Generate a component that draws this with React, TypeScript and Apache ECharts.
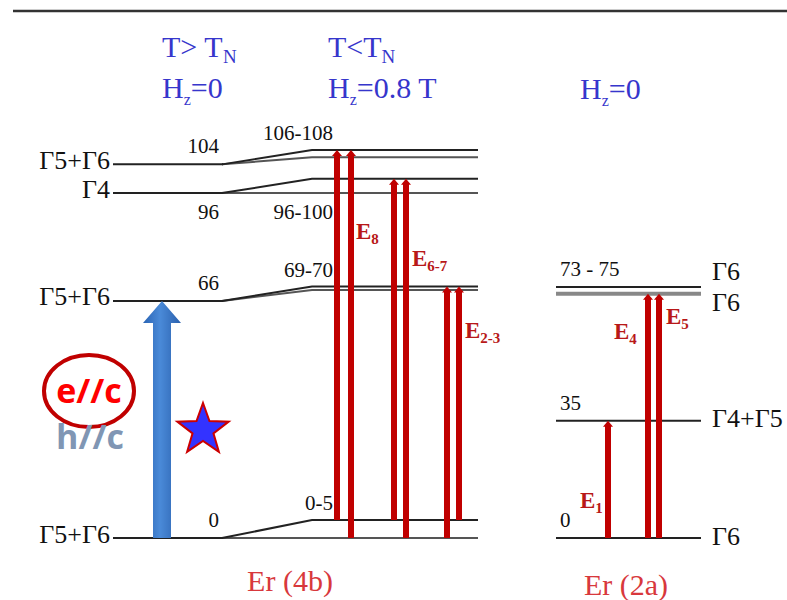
import React, { useEffect, useRef } from 'react';
import * as echarts from 'echarts';

// ---- Er (4b): crystal-field levels (meV), T > T_N, H_z = 0
const er4bLevels = [0, 66, 96, 104];
const er4bIrreps = ['Γ5+Γ6', 'Γ5+Γ6', 'Γ4', 'Γ5+Γ6'];
const er4bLevelLabels = ['0', '66', '96', '104'];
// split levels, T < T_N, H_z = 0.8 T
const er4bSplitLow = [0, 69, 96, 106];
const er4bSplitHigh = [5, 70, 100, 108];
const er4bSplitLabels = ['0-5', '69-70', '96-100', '106-108'];

// ---- Er (2a): levels (meV), H_z = 0
const er2aLevels = [0, 35, 73, 75];
const er2aIrreps = ['Γ6', 'Γ4+Γ5', 'Γ6', 'Γ6'];
const er2aLabels = ['0', '35', '', '73 - 75'];

// ---- transitions (meV)
const er4bTransFrom = [5, 0, 5, 0, 0, 5];
const er4bTransTo = [108, 108, 100, 100, 70, 70];
const er2aTransFrom = [0, 0, 0];
const er2aTransTo = [35, 73, 73];
const irTransition = [0, 66];

// ---- layout (x positions in px)
const X4B_TRANS = [337, 351, 394, 406, 447, 459];
const X2A_TRANS = [608, 648, 659];
const X_IR = 162;
const LABEL_BELOW_4B = [false, false, true, false];

const SERIF = '"Liberation Serif", "Times New Roman", serif';
const DARKRED = '#c00000';
const BLUE = '#3636cc';
const ELABEL = '#b81818';

function starPoints(cx: number, cy: number, R: number, r: number) {
  const pts: number[][] = [];
  for (let k = 0; k < 10; k++) {
    const rad = k % 2 === 0 ? R : r;
    const a = -Math.PI / 2 + (k * Math.PI) / 5;
    pts.push([cx + rad * Math.cos(a), cy + rad * Math.sin(a)]);
  }
  return pts;
}

function arrowChildren(cx: number, yFrom: number, yTo: number) {
  return [
    {
      type: 'rect',
      shape: { x: cx - 3, y: yTo + 4, width: 6, height: yFrom - yTo - 4 },
      style: { fill: DARKRED },
    },
    {
      type: 'polygon',
      shape: { points: [[cx - 5, yTo + 6], [cx + 5, yTo + 6], [cx, yTo]] },
      style: { fill: DARKRED },
    },
  ];
}

function txt(text: string, x: number, y: number, align: string, size: number) {
  return {
    type: 'text',
    style: {
      text, x, y, align, verticalAlign: 'middle', fill: '#111',
      font: `${size}px "Liberation Serif", serif`,
      fontSize: size, fontFamily: 'Liberation Serif',
    },
  };
}

export default function App() {
  const ref = useRef<HTMLDivElement>(null);
  useEffect(() => {
    if (!ref.current) return;
    const chart = echarts.init(ref.current, null, { renderer: 'svg' });

    const levels4b = {
      type: 'custom',
      coordinateSystem: 'cartesian2d',
      xAxisIndex: 0,
      yAxisIndex: 0,
      z: 2,
      data: er4bLevels.map((e, i) => [e, er4bSplitLow[i], er4bSplitHigh[i]]),
      renderItem: (params: any, api: any) => {
        const i = params.dataIndex;
        const e = api.value(0), lo = api.value(1), hi = api.value(2);
        const P = (x: number, v: number) => api.coord([x, v]);
        const y = P(0, e)[1], yLo = P(0, lo)[1], yHi = P(0, hi)[1];
        const below = LABEL_BELOW_4B[i];
        return {
          type: 'group',
          children: [
            { type: 'polyline', shape: { points: [P(222, e), P(312, lo), P(478, lo)] }, style: { stroke: '#555', lineWidth: 2, fill: null } },
            { type: 'polyline', shape: { points: [P(222, e), P(312, hi), P(478, hi)] }, style: { stroke: '#222', lineWidth: 2, fill: null } },
            { type: 'polyline', shape: { points: [P(113, e), P(223, e)] }, style: { stroke: '#222', lineWidth: 2, fill: null } },
            txt(er4bIrreps[i], 110, y - 4, 'right', 26),
            txt(er4bLevelLabels[i], 219, below ? y + 19 : y - 18, 'right', 21),
            txt(er4bSplitLabels[i], 333, below ? yLo + 19 : yHi - 17, 'right', 21),
          ],
        };
      },
    };

    const levels2a = {
      type: 'custom',
      coordinateSystem: 'cartesian2d',
      xAxisIndex: 1,
      yAxisIndex: 1,
      z: 2,
      data: er2aLevels.map((e) => [e]),
      renderItem: (params: any, api: any) => {
        const i = params.dataIndex;
        const e = api.value(0);
        const P = (x: number, v: number) => api.coord([x, v]);
        const y = P(0, e)[1];
        const isLowerOfPair = i === 2;
        const isUpperOfPair = i === 3;
        const irrY = isLowerOfPair ? y + 9 : isUpperOfPair ? y - 16 : y - 2;
        return {
          type: 'group',
          children: [
            { type: 'polyline', shape: { points: [P(556, e), P(701, e)] }, style: { stroke: isLowerOfPair ? '#888' : '#222', lineWidth: isLowerOfPair ? 4 : 2, fill: null } },
            txt(er2aIrreps[i], 712, irrY, 'left', 26),
            txt(er2aLabels[i], 560, y - 18, 'left', 21),
          ],
        };
      },
    };

    const trans4b = {
      type: 'custom',
      coordinateSystem: 'cartesian2d',
      xAxisIndex: 0,
      yAxisIndex: 0,
      z: 3,
      data: er4bTransFrom.map((f, i) => [f, er4bTransTo[i]]),
      renderItem: (params: any, api: any) => {
        const cx = X4B_TRANS[params.dataIndex];
        const yF = api.coord([cx, api.value(0)])[1];
        const yT = api.coord([cx, api.value(1)])[1];
        return { type: 'group', children: arrowChildren(cx, yF, yT) };
      },
    };

    const trans2a = {
      type: 'custom',
      coordinateSystem: 'cartesian2d',
      xAxisIndex: 1,
      yAxisIndex: 1,
      z: 3,
      data: er2aTransFrom.map((f, i) => [f, er2aTransTo[i]]),
      renderItem: (params: any, api: any) => {
        const cx = X2A_TRANS[params.dataIndex];
        const yF = api.coord([cx, api.value(0)])[1];
        const yT = api.coord([cx, api.value(1)])[1];
        return { type: 'group', children: arrowChildren(cx, yF, yT) };
      },
    };

    const irArrow = {
      type: 'custom',
      coordinateSystem: 'cartesian2d',
      xAxisIndex: 0,
      yAxisIndex: 0,
      z: 3,
      data: [irTransition],
      renderItem: (_params: any, api: any) => {
        const yF = api.coord([X_IR, api.value(0)])[1];
        const yT = api.coord([X_IR, api.value(1)])[1];
        const c = X_IR, sw = 9, hw = 19, hh = 22;
        return {
          type: 'polygon',
          shape: {
            points: [
              [c - sw, yF], [c - sw, yT + hh], [c - hw, yT + hh], [c, yT],
              [c + hw, yT + hh], [c + sw, yT + hh], [c + sw, yF],
            ],
          },
          style: {
            fill: new echarts.graphic.LinearGradient(0, 0, 1, 0, [
              { offset: 0, color: '#2a64b4' },
              { offset: 0.45, color: '#4a8ad8' },
              { offset: 1, color: '#2a60ad' },
            ]),
          },
        };
      },
    };

    const subText = (x: number, y: number, main: string, sub: string, tail: string, fs: number, subFs: number, lh: number, color: string, weight = 'normal') => ({
      type: 'text',
      x,
      y,
      style: {
        text: `{m|${main}}{s|${sub}}` + (tail ? `{m|${tail}}` : ''),
        align: 'left',
        verticalAlign: 'middle',
        fill: color,
        fontFamily: SERIF,
        fontWeight: weight,
        rich: {
          m: { fontSize: fs, lineHeight: lh, fontFamily: SERIF, fontWeight: weight },
          s: { fontSize: subFs, lineHeight: subFs, verticalAlign: 'bottom', fontFamily: SERIF, fontWeight: weight },
        },
      },
    });

    const graphic: any[] = [
      { type: 'line', shape: { x1: 13, y1: 11, x2: 787, y2: 11 }, style: { stroke: '#333', lineWidth: 2.5 } },
      subText(162, 46, 'T> T', 'N', '', 30, 19, 40, BLUE),
      subText(162, 87, 'H', 'z', '=0', 30, 16, 40, BLUE),
      subText(328, 46, 'T<T', 'N', '', 30, 19, 40, BLUE),
      subText(328, 87, 'H', 'z', '=0.8 T', 30, 16, 40, BLUE),
      subText(580, 88, 'H', 'z', '=0', 30, 16, 40, BLUE),
      subText(356, 231, 'E', '8', '', 23, 15, 30, ELABEL, 'bold'),
      subText(412, 258, 'E', '6-7', '', 23, 15, 30, ELABEL, 'bold'),
      subText(465, 330, 'E', '2-3', '', 23, 15, 30, ELABEL, 'bold'),
      subText(580, 500, 'E', '1', '', 23, 15, 30, ELABEL, 'bold'),
      subText(614, 331, 'E', '4', '', 23, 15, 30, ELABEL, 'bold'),
      subText(666, 316, 'E', '5', '', 23, 15, 30, ELABEL, 'bold'),
      { type: 'text', x: 290, y: 580, style: { text: 'Er (4b)', align: 'center', verticalAlign: 'middle', fill: '#d8383c', fontSize: 30, fontFamily: SERIF } },
      { type: 'text', x: 626, y: 584, style: { text: 'Er (2a)', align: 'center', verticalAlign: 'middle', fill: '#d8383c', fontSize: 30, fontFamily: SERIF } },
      { type: 'ellipse', shape: { cx: 89, cy: 391, rx: 45, ry: 36 }, style: { fill: null, stroke: DARKRED, lineWidth: 4 } },
      { type: 'text', x: 89, y: 390, style: { text: 'e//c', align: 'center', verticalAlign: 'middle', fill: '#ff0000', fontSize: 34, fontWeight: 'bold', fontFamily: '"Open Sans", sans-serif' } },
      { type: 'text', x: 90, y: 436, style: { text: 'h//c', align: 'center', verticalAlign: 'middle', fill: '#8096b4', fontSize: 34, fontWeight: 'bold', fontFamily: '"Open Sans", sans-serif' } },
      { type: 'polygon', shape: { points: starPoints(203, 430, 27, 11) }, style: { fill: '#3333ff', stroke: '#cc0000', lineWidth: 2 } },
    ];

    chart.setOption({
      animation: false,
      grid: [
        { left: 0, right: 0, top: 150, bottom: 62 },
        { left: 0, right: 0, top: 287, bottom: 62 },
      ],
      xAxis: [
        { type: 'value', min: 0, max: 787, show: false, gridIndex: 0 },
        { type: 'value', min: 0, max: 787, show: false, gridIndex: 1 },
      ],
      yAxis: [
        { type: 'value', min: 0, max: 108, show: false, gridIndex: 0 },
        { type: 'value', min: 0, max: 75, show: false, gridIndex: 1 },
      ],
      series: [levels4b, levels2a, irArrow, trans4b, trans2a],
      graphic,
    });
    return () => chart.dispose();
  }, []);

  return (
    <div
      ref={ref}
      style={{ position: 'fixed', left: 0, top: 0, width: 787, height: 600, background: '#fff' }}
    />
  );
}
